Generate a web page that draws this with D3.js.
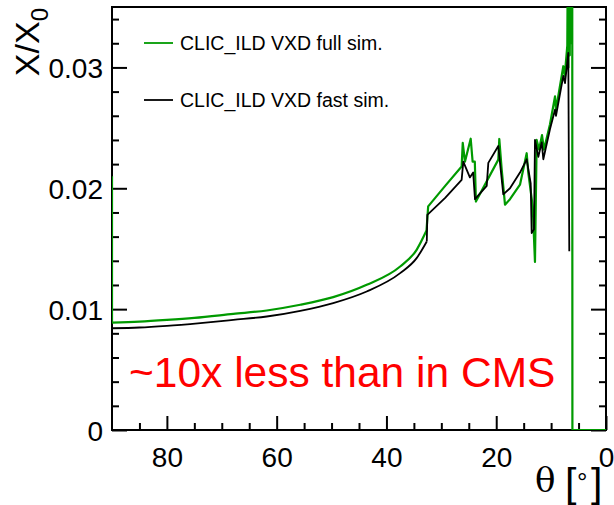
<!DOCTYPE html>
<html>
<head>
<meta charset="utf-8">
<script src="https://cdn.jsdelivr.net/npm/d3@7"></script>
<style>
  body { margin: 0; background: #fff; }
  svg text { font-family: "Liberation Sans", Arial, Helvetica, sans-serif; }
</style>
</head>
<body>
<div id="viz"></div>
<script>
// full simulation (green)
const thetaFull = [90, 90, 85, 80, 75, 67.9, 61.8, 55.7, 49.7, 43.6, 37.5, 34.5, 32.7, 32.4, 29.3,
  26.3, 26.1, 25.7, 24.65, 24.3, 23.9, 23.7, 19.62, 19.44, 19.0, 18.4, 17.49, 15.67, 14.45, 14.16,
  13.35, 12.94, 12.63, 12.2, 11.66, 11.3, 10.2, 9.29, 9.11, 7.78, 7.52, 7.05, 6.95, 6.85, 6.75,
  6.6, 6.5, 6.4, 6.3, 6.15, 6.12, 0];
const x0Full = [0.021, 0.00889, 0.00897, 0.00911, 0.00928, 0.00961, 0.00989, 0.01036, 0.01099, 0.01201,
  0.01353, 0.01491, 0.0165, 0.0185, 0.0202, 0.0218, 0.02375, 0.0222, 0.0241, 0.0222, 0.0222, 0.0189,
  0.02237, 0.02408, 0.02154, 0.01864, 0.0191, 0.0203, 0.0229, 0.0213, 0.0185, 0.0139, 0.024, 0.0232,
  0.0244, 0.0232, 0.0253, 0.0276, 0.0265, 0.0301, 0.0293, 0.0318, 0.04, 0.03, 0.04, 0.031, 0.04,
  0.032, 0.04, 0.04, 0, 0];

// fast simulation (black)
const thetaFast = [90, 85, 80, 73.9, 67.9, 61.8, 55.7, 49.7, 43.6, 37.5, 34.5, 32.65, 32.55, 29.3,
  26.3, 26.0, 24.8, 24.2, 23.87, 21.73, 21.44, 19.62, 19.31, 18.71, 17.49, 15.67, 14.45, 13.72,
  13.54, 13.12, 12.94, 12.33, 11.71, 11.42, 10.2, 9.29, 9.11, 7.78, 7.47, 6.87, 6.69];
const x0Fast = [0.00842, 0.00848, 0.00862, 0.00885, 0.00911, 0.00939, 0.00986, 0.0105, 0.01146,
  0.01298, 0.01422, 0.0156, 0.0178, 0.0192, 0.0207, 0.0222, 0.0209, 0.0213, 0.0191, 0.0202, 0.0221,
  0.0235, 0.0221, 0.0195, 0.02, 0.0213, 0.0224, 0.0204, 0.0163, 0.0166, 0.024, 0.0226, 0.0238,
  0.0224, 0.0249, 0.0265, 0.026, 0.0293, 0.0287, 0.0312, 0.0148];

const xMajor = [80, 60, 40, 20, 0];
const yMajor = [0, 0.01, 0.02, 0.03];
const legendLabels = ["CLIC_ILD VXD full sim.", "CLIC_ILD VXD fast sim."];
const seriesColors = ["#009a00", "#000000"];

const margin = {top: 7, right: 8, bottom: 75, left: 112};
const W = 614, H = 505;
const width = W - margin.left - margin.right;
const height = H - margin.top - margin.bottom;

const svg = d3.select("#viz").append("svg")
  .attr("width", W)
  .attr("height", H);

const g = svg.append("g")
  .attr("transform", `translate(${margin.left},${margin.top})`);

const x = d3.scaleLinear().domain([90, 0]).range([0, width]);
const y = d3.scaleLinear().domain([0, 0.035]).range([height, 0]);

g.append("clipPath").attr("id", "clip")
  .append("rect").attr("width", width).attr("height", height);

// axes with inward ticks
function styleAxis(sel) {
  sel.select(".domain").remove();
  sel.selectAll("line").attr("stroke", "#000").attr("stroke-width", 2);
  sel.selectAll("text").attr("fill", "#000").style("font-size", "28px")
    .style("font-family", "'Liberation Sans', Arial, sans-serif");
}

const xMinor = d3.range(0, 91, 5).filter(v => !xMajor.includes(v) && v !== 90);
const yMinor = d3.range(0, 0.0351, 0.002).filter(v => !yMajor.some(m => Math.abs(m - v) < 1e-6));

g.append("g")
  .attr("transform", `translate(0,${height})`)
  .call(d3.axisBottom(x).tickValues(xMinor).tickSize(-7).tickFormat(""))
  .call(styleAxis);
g.append("g")
  .attr("transform", `translate(0,${height})`)
  .call(d3.axisBottom(x).tickValues(xMajor).tickSize(-14).tickPadding(10).tickFormat(d3.format("d")))
  .call(styleAxis)
  .selectAll("text").attr("dy", "0.95em");

g.append("g")
  .call(d3.axisLeft(y).tickValues(yMinor).tickSize(-7).tickFormat(""))
  .call(styleAxis);
g.append("g")
  .call(d3.axisLeft(y).tickValues(yMajor).tickSize(-15).tickPadding(9)
    .tickFormat(d => d === 0 ? "0" : d.toFixed(2)))
  .call(styleAxis)
  .selectAll("text").attr("dy", "0.36em");

g.append("g")
  .attr("transform", `translate(${width},0)`)
  .call(d3.axisRight(y).tickValues(yMinor).tickSize(-7).tickFormat(""))
  .call(styleAxis);
g.append("g")
  .attr("transform", `translate(${width},0)`)
  .call(d3.axisRight(y).tickValues(yMajor).tickSize(-15).tickFormat(""))
  .call(styleAxis);

// frame
g.append("rect")
  .attr("width", width)
  .attr("height", height)
  .attr("fill", "none")
  .attr("stroke", "#000")
  .attr("stroke-width", 2);

// curves: smooth barrel part, then the jagged forward region
const smoothLine = d3.line().x(d => x(d[0])).y(d => y(d[1])).curve(d3.curveMonotoneX);
const line = d3.line().x(d => x(d[0])).y(d => y(d[1]));
const full = thetaFull.map((t, i) => [t, x0Full[i]]);
const fast = thetaFast.map((t, i) => [t, x0Fast[i]]);

const curves = g.append("g").attr("clip-path", "url(#clip)");

function drawSeries(pts, smoothFrom, smoothTo, color, w) {
  const parts = [
    {d: pts.slice(0, smoothFrom + 1), gen: line},
    {d: pts.slice(smoothFrom, smoothTo + 1), gen: smoothLine},
    {d: pts.slice(smoothTo), gen: line}
  ];
  parts.forEach(p => {
    if (p.d.length < 2) return;
    curves.append("path")
      .datum(p.d)
      .attr("d", p.gen)
      .attr("fill", "none")
      .attr("stroke", color)
      .attr("stroke-width", w)
      .attr("stroke-linejoin", "round");
  });
}
drawSeries(full, 1, 12, seriesColors[0], 2.2);
drawSeries(fast, 0, 11, seriesColors[1], 1.8);

// legend
const legend = g.append("g").attr("transform", "translate(32,36)");
legendLabels.forEach((lbl, i) => {
  legend.append("line")
    .attr("x1", 0).attr("x2", 29)
    .attr("y1", i * 57).attr("y2", i * 57)
    .attr("stroke", seriesColors[i])
    .attr("stroke-width", 1.8);
  legend.append("text")
    .attr("x", 36)
    .attr("y", i * 57 + 7)
    .style("font-size", "19.5px")
    .text(lbl);
});

// annotation
g.append("text")
  .attr("x", 17)
  .attr("y", 380)
  .attr("fill", "#ff0000")
  .style("font-size", "42.5px")
  .text("~10x less than in CMS");

// y title
const yTitle = svg.append("text")
  .attr("transform", "translate(39,8) rotate(-90)")
  .attr("text-anchor", "end")
  .style("font-size", "34px");
yTitle.append("tspan").text("X/X");
yTitle.append("tspan").attr("dy", 9).style("font-size", "24px").text("0");

// x title
svg.append("text")
  .attr("x", 535)
  .attr("y", 492)
  .style("font-family", "'DejaVu Serif', 'Liberation Serif', serif")
  .style("font-size", "34px")
  .text("θ");
svg.append("text")
  .attr("x", 565)
  .attr("y", 497)
  .style("font-size", "41px")
  .text("[");
svg.append("text")
  .attr("x", 577)
  .attr("y", 491)
  .style("font-size", "26px")
  .text("°");
svg.append("text")
  .attr("x", 591)
  .attr("y", 497)
  .style("font-size", "41px")
  .text("]");
</script>
</body>
</html>
